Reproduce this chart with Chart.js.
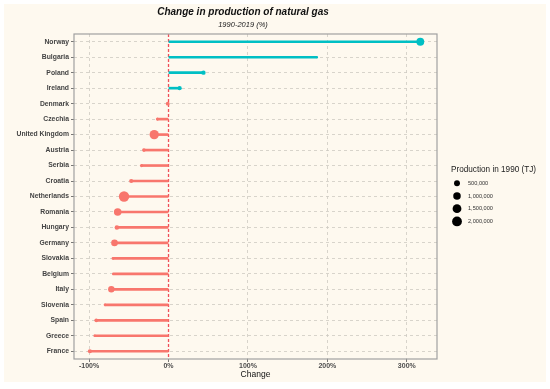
<!DOCTYPE html>
<html>
<head>
<meta charset="utf-8">
<script src="https://cdn.jsdelivr.net/npm/chart.js@4.4.0/dist/chart.umd.min.js"></script>
<style>
  html, body { margin: 0; padding: 0; background: #ffffff; }
  #wrap { width: 550px; height: 389px; position: relative; }
</style>
</head>
<body>
<div id="wrap"><canvas id="gasChart" width="550" height="389"></canvas></div>
<script>
// countries, top to bottom
const countries = ["Norway", "Bulgaria", "Poland", "Ireland", "Denmark", "Czechia", "United Kingdom",
    "Austria", "Serbia", "Croatia", "Netherlands", "Romania", "Hungary", "Germany", "Slovakia",
    "Belgium", "Italy", "Slovenia", "Spain", "Greece", "France"];
// change 1990-2019 in %
const change = [317, 187, 44, 14, -1, -14, -18, -31, -34, -47, -56, -64, -65, -68, -70, -70, -72, -80, -91, -93, -99];
// production in 1990 (TJ), estimated from point size
const production1990 = [1100000, 500, 180000, 160000, 120000, 40000, 1750000, 90000, 50000, 150000, 2300000,
    1000000, 220000, 700000, 15000, 0, 650000, 12000, 100000, 10000, 160000];
const legendBreaks = [500000, 1000000, 1500000, 2000000];
const xTicks = [-100, 0, 100, 200, 300];

const POS = "#00BFC4";
const NEG = "#F8766D";
const BG = "#FEF9EF";
const FONT = "'Liberation Sans', Arial, sans-serif";

const pMax = 2300000;
function radiusFor(v) {
    return 1 + 4.2 * Math.sqrt(v / pMax);
}

const colors = change.map(v => v >= 0 ? POS : NEG);

// page background, zero line, panel border, title and size legend
const decorations = {
    id: "decorations",
    beforeDraw(chart) {
        const ctx = chart.ctx;
        ctx.save();
        ctx.fillStyle = BG;
        ctx.fillRect(4, 4, 542, 378);
        ctx.restore();
    },
    beforeDatasetsDraw(chart) {
        const ctx = chart.ctx;
        const area = chart.chartArea;
        const x0 = chart.scales.x.getPixelForValue(0);
        ctx.save();
        ctx.strokeStyle = "#F0505A";
        ctx.lineWidth = 1.3;
        ctx.setLineDash([3, 2]);
        ctx.beginPath();
        ctx.moveTo(x0, area.top);
        ctx.lineTo(x0, area.bottom);
        ctx.stroke();
        ctx.restore();
    },
    afterDraw(chart) {
        const ctx = chart.ctx;
        const area = chart.chartArea;
        ctx.save();
        ctx.strokeStyle = "#A0A0A0";
        ctx.lineWidth = 1.2;
        ctx.strokeRect(area.left, area.top, area.right - area.left, area.bottom - area.top);

        // title
        ctx.fillStyle = "#111";
        ctx.textAlign = "center";
        ctx.textBaseline = "middle";
        ctx.font = "italic bold 10px " + FONT;
        ctx.fillText("Change in production of natural gas", 243, 12);
        ctx.font = "italic 7.5px " + FONT;
        ctx.fillStyle = "#222";
        ctx.fillText("1990-2019 (%)", 243, 25);

        // size legend
        ctx.textAlign = "left";
        ctx.font = "8.2px " + FONT;
        ctx.fillStyle = "#222";
        ctx.fillText("Production in 1990 (TJ)", 451, 170);
        ctx.font = "5.6px " + FONT;
        legendBreaks.forEach((b, i) => {
            const y = 183.3 + i * 12.7;
            ctx.fillStyle = "#000";
            ctx.beginPath();
            ctx.arc(457, y, radiusFor(b), 0, Math.PI * 2);
            ctx.fill();
            ctx.fillStyle = "#333";
            ctx.fillText(b.toLocaleString("en-US"), 468, y);
        });
        ctx.restore();
    }
};

new Chart(document.getElementById("gasChart"), {
    type: "bar",
    data: {
        labels: countries,
        datasets: [
            {
                type: "scatter",
                data: countries.map((c, i) => ({ x: change[i], y: c })),
                pointRadius: production1990.map(radiusFor),
                pointHoverRadius: production1990.map(radiusFor),
                backgroundColor: colors,
                borderWidth: 0,
                order: 0
            },
            {
                type: "bar",
                data: change.map(v => [0, v]),
                backgroundColor: colors,
                borderWidth: 0,
                barThickness: 2,
                order: 1
            }
        ]
    },
    plugins: [decorations],
    options: {
        indexAxis: "y",
        responsive: false,
        animation: false,
        layout: { padding: { top: 34, right: 113, left: 0, bottom: 4 } },
        plugins: {
            legend: { display: false },
            tooltip: { enabled: false }
        },
        scales: {
            x: {
                type: "linear",
                min: -119,
                max: 338,
                afterBuildTicks: (scale) => { scale.ticks = xTicks.map(v => ({ value: v })); },
                afterFit: (scale) => { scale.height = 26; },
                grid: {
                    color: (c) => c.tick && c.tick.value === 0 ? "rgba(0,0,0,0)" : "#CFCBC2",
                    lineWidth: 0.8,
                    tickColor: "#555",
                    tickLength: 3
                },
                border: { display: false, dash: [3, 3] },
                ticks: {
                    padding: 0,
                    color: "#4D4D4D",
                    font: { family: FONT, size: 7, weight: "bold" },
                    callback: (v) => v + "%"
                },
                title: {
                    display: true,
                    text: "Change",
                    color: "#111",
                    padding: { top: 0, bottom: 5 },
                    font: { family: FONT, size: 8.5 }
                }
            },
            y: {
                type: "category",
                offset: true,
                afterFit: (scale) => { scale.width = 74; },
                grid: {
                    offset: false,
                    color: "#CFCBC2",
                    lineWidth: 0.8,
                    tickColor: "#555",
                    tickLength: 3
                },
                border: { display: false, dash: [3, 3] },
                ticks: {
                    padding: 2,
                    color: "#444",
                    font: { family: FONT, size: 6.8, weight: "bold" }
                }
            }
        }
    }
});
</script>
</body>
</html>
